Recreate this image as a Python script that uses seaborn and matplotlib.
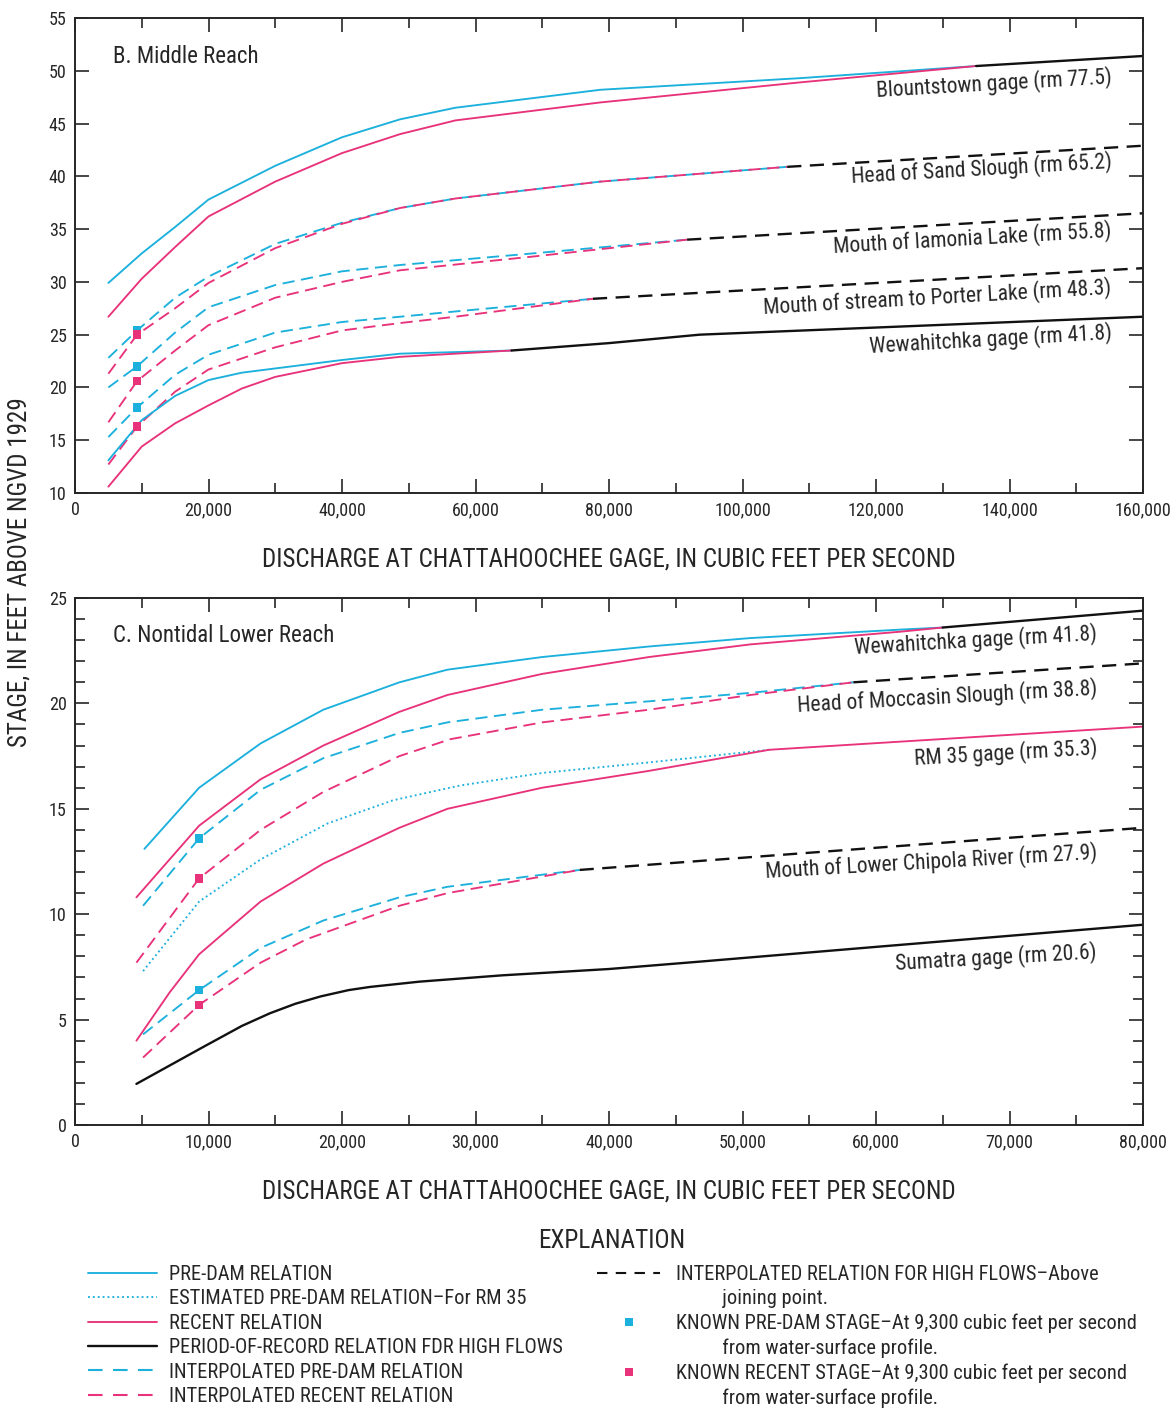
import matplotlib
matplotlib.use("Agg")
import matplotlib.pyplot as plt
from matplotlib.lines import Line2D
from matplotlib.ticker import MultipleLocator, FuncFormatter
import seaborn as sns

CYAN = '#1cb0dc'
PINK = '#e8327a'
BLACK = '#111111'

# ---------------- B. Middle Reach ----------------
mid_blount_x = [5000, 10000, 15000, 20000, 30000, 40000, 48700, 57000, 78700, 108600, 135000]
mid_blount_pre = [29.9, 32.7, 35.2, 37.8, 41.0, 43.7, 45.4, 46.5, 48.2, 49.3, 50.45]
mid_blount_rec = [26.7, 30.3, 33.3, 36.2, 39.5, 42.2, 44.0, 45.3, 47.0, 48.9, 50.45]
mid_blount_hi_x = [135000, 160000]
mid_blount_hi = [50.45, 51.4]

mid_sand_x = [5000, 9300, 15000, 20000, 30000, 40000, 48700, 57000, 78700, 106700]
mid_sand_pre = [22.8, 25.4, 28.5, 30.5, 33.6, 35.6, 37.0, 37.9, 39.5, 40.9]
mid_sand_rec = [21.3, 25.0, 27.5, 29.9, 33.2, 35.5, 37.0, 37.9, 39.5, 40.9]
mid_sand_hi_x = [106700, 160000]
mid_sand_hi = [40.9, 42.9]

mid_iam_x = [5000, 9300, 15000, 20000, 30000, 40000, 48700, 68600, 91700]
mid_iam_pre = [20.0, 22.0, 25.2, 27.6, 29.7, 31.0, 31.6, 32.7, 34.0]
mid_iam_rec = [16.7, 20.6, 23.5, 25.9, 28.5, 30.0, 31.1, 32.4, 34.0]
mid_iam_hi_x = [91700, 160000]
mid_iam_hi = [34.0, 36.5]

mid_port_x = [5000, 9300, 15000, 20000, 30000, 40000, 48700, 57000, 77600]
mid_port_pre = [15.3, 18.1, 21.2, 23.1, 25.2, 26.2, 26.7, 27.2, 28.4]
mid_port_rec = [12.7, 16.3, 19.6, 21.7, 23.8, 25.4, 26.1, 26.7, 28.4]
mid_port_hi_x = [77600, 160000]
mid_port_hi = [28.4, 31.3]

mid_wewa_x = [5000, 10000, 15000, 20000, 25000, 30000, 40000, 48700, 65400]
mid_wewa_pre = [13.1, 16.9, 19.2, 20.7, 21.4, 21.8, 22.6, 23.2, 23.5]
mid_wewa_rec = [10.6, 14.4, 16.6, 18.3, 19.9, 21.0, 22.3, 22.9, 23.5]
mid_wewa_hi_x = [65400, 80000, 93600, 160000]
mid_wewa_hi = [23.5, 24.2, 25.0, 26.7]

mid_known_pre = [25.4, 22.0, 18.1]
mid_known_rec = [25.0, 20.6, 16.3]

mid_labels = ['Blountstown gage (rm 77.5)', 'Head of Sand Slough (rm 65.2)',
              'Mouth of Iamonia Lake (rm 55.8)', 'Mouth of stream to Porter Lake (rm 48.3)',
              'Wewahitchka gage (rm 41.8)']
mid_label_y = [49.4, 41.4, 34.9, 29.5, 25.2]

# ---------------- C. Nontidal Lower Reach ----------------
low_wewa_pre_x = [5200, 9300, 13900, 18600, 24300, 27900, 35000, 43000, 50600, 61800, 65000]
low_wewa_pre = [13.1, 16.0, 18.1, 19.7, 21.0, 21.6, 22.2, 22.7, 23.1, 23.5, 23.6]
low_wewa_rec_x = [4600, 9300, 13900, 18600, 24300, 27900, 35000, 43000, 50600, 61800, 65000]
low_wewa_rec = [10.8, 14.2, 16.4, 18.0, 19.6, 20.4, 21.4, 22.2, 22.8, 23.4, 23.6]
low_wewa_hi_x = [65000, 80000]
low_wewa_hi = [23.6, 24.4]

low_moc_pre_x = [5100, 9300, 13900, 18600, 24300, 27900, 35000, 43000, 50600, 58300]
low_moc_pre = [10.4, 13.6, 15.9, 17.4, 18.6, 19.1, 19.7, 20.1, 20.5, 21.0]
low_moc_rec_x = [4600, 9300, 13900, 18600, 24300, 28100, 35000, 43000, 50600, 58300]
low_moc_rec = [7.7, 11.7, 14.0, 15.8, 17.5, 18.3, 19.1, 19.7, 20.4, 21.0]
low_moc_hi_x = [58300, 80000]
low_moc_hi = [21.0, 21.9]

low_rm35_est_x = [5100, 9300, 13900, 18900, 23800, 28800, 35000, 43000, 52000]
low_rm35_est = [7.3, 10.6, 12.6, 14.3, 15.4, 16.1, 16.7, 17.2, 17.8]
low_rm35_rec_x = [4600, 7100, 9300, 13900, 18600, 24300, 27900, 35000, 43000, 52000, 80000]
low_rm35_rec = [4.0, 6.3, 8.1, 10.6, 12.4, 14.1, 15.0, 16.0, 16.8, 17.8, 18.9]

low_chip_pre_x = [5100, 9300, 13900, 18600, 24300, 27900, 37800]
low_chip_pre = [4.3, 6.4, 8.4, 9.7, 10.8, 11.3, 12.1]
low_chip_rec_x = [5100, 9300, 13900, 17300, 24300, 27900, 37800]
low_chip_rec = [3.2, 5.7, 7.7, 8.8, 10.4, 11.0, 12.1]
low_chip_hi_x = [37800, 80000]
low_chip_hi = [12.1, 14.1]

low_sum_x = [4600, 9600, 12500, 14600, 16500, 18400, 20500, 22100, 25800, 32000, 40000, 46800, 60000, 80000]
low_sum = [1.95, 3.7, 4.7, 5.3, 5.75, 6.1, 6.4, 6.55, 6.8, 7.1, 7.4, 7.75, 8.45, 9.5]

low_known_pre = [13.6, 6.4]
low_known_rec = [11.7, 5.7]

low_labels = ['Wewahitchka gage (rm 41.8)', 'Head of Moccasin Slough (rm 38.8)',
              'RM 35 gage (rm 35.3)', 'Mouth of Lower Chipola River (rm 27.9)',
              'Sumatra gage (rm 20.6)']
low_label_y = [23.3, 20.7, 17.9, 12.95, 8.2]

KNOWN_Q = 9300

STYLES = {
    'solid': '-',
    'dash': (0, (6.5, 3.5)),
    'dot': (0, (1, 1.6)),
    'bdash': (0, (6, 3.6)),
}

sns.set_style("ticks")
plt.rcParams['font.family'] = ['Roboto Condensed', 'DejaVu Sans Condensed',
                               'Liberation Sans Narrow', 'Liberation Sans', 'DejaVu Sans']
plt.rcParams['axes.linewidth'] = 1.4


def curve(ax, x, y, color, style='solid', lw=1.35):
    sns.lineplot(x=x, y=y, ax=ax, color=color, linestyle=STYLES[style],
                 linewidth=lw, sort=False, estimator=None)


def known(ax, values, color):
    sns.scatterplot(x=[KNOWN_Q] * len(values), y=values, ax=ax, marker='s', s=38,
                    color=color, edgecolor='none', zorder=5)


def setup_axes(ax, xmax, xmajor, xminor, ymin, ymax, ymajor, yminor=None):
    ax.set_xlim(0, xmax)
    ax.set_ylim(ymin, ymax)
    ax.xaxis.set_major_locator(MultipleLocator(xmajor))
    ax.xaxis.set_minor_locator(MultipleLocator(xminor))
    ax.yaxis.set_major_locator(MultipleLocator(ymajor))
    if yminor:
        ax.yaxis.set_minor_locator(MultipleLocator(yminor))
    ax.xaxis.set_major_formatter(FuncFormatter(lambda v, p: f'{int(v):,}'))
    ax.tick_params(which='both', direction='in', top=True, right=True, labelsize=13, width=1.2)
    ax.tick_params(which='major', length=10, pad=6)
    ax.tick_params(which='minor', length=7)
    for s in ax.spines.values():
        s.set_linewidth(1.4)
    ax.set_ylabel('')
    ax.set_xlabel('DISCHARGE AT CHATTAHOOCHEE GAGE, IN CUBIC FEET PER SECOND',
                  fontsize=18, labelpad=20)


fig = plt.figure(figsize=(11.75, 14.08), dpi=100)
ax1 = fig.add_axes([75 / 1175, 1 - 493 / 1408, 1068 / 1175, 475 / 1408])
ax2 = fig.add_axes([75 / 1175, 1 - 1125 / 1408, 1068 / 1175, 527 / 1408])

# ---- middle reach ----
curve(ax1, mid_blount_x, mid_blount_pre, CYAN)
curve(ax1, mid_blount_x, mid_blount_rec, PINK)
curve(ax1, mid_blount_hi_x, mid_blount_hi, BLACK, lw=1.7)
curve(ax1, mid_sand_x, mid_sand_pre, CYAN, 'dash')
curve(ax1, mid_sand_x, mid_sand_rec, PINK, 'dash')
curve(ax1, mid_sand_hi_x, mid_sand_hi, BLACK, 'bdash', lw=1.7)
curve(ax1, mid_iam_x, mid_iam_pre, CYAN, 'dash')
curve(ax1, mid_iam_x, mid_iam_rec, PINK, 'dash')
curve(ax1, mid_iam_hi_x, mid_iam_hi, BLACK, 'bdash', lw=1.7)
curve(ax1, mid_port_x, mid_port_pre, CYAN, 'dash')
curve(ax1, mid_port_x, mid_port_rec, PINK, 'dash')
curve(ax1, mid_port_hi_x, mid_port_hi, BLACK, 'bdash', lw=1.7)
curve(ax1, mid_wewa_x, mid_wewa_pre, CYAN)
curve(ax1, mid_wewa_x, mid_wewa_rec, PINK)
curve(ax1, mid_wewa_hi_x, mid_wewa_hi, BLACK, lw=1.7)
known(ax1, mid_known_pre, CYAN)
known(ax1, mid_known_rec, PINK)
setup_axes(ax1, 160000, 20000, 10000, 10, 55, 5)
for lab, yy in zip(mid_labels, mid_label_y):
    ax1.text(155300, yy, lab, ha='right', va='center', rotation=3.3,
             rotation_mode='anchor', fontsize=15.5)
ax1.text(0.0356, 0.918, 'B. Middle Reach', transform=ax1.transAxes, fontsize=16.5,
         va='center', ha='left')

# ---- lower reach ----
curve(ax2, low_wewa_pre_x, low_wewa_pre, CYAN)
curve(ax2, low_wewa_rec_x, low_wewa_rec, PINK)
curve(ax2, low_wewa_hi_x, low_wewa_hi, BLACK, lw=1.7)
curve(ax2, low_moc_pre_x, low_moc_pre, CYAN, 'dash')
curve(ax2, low_moc_rec_x, low_moc_rec, PINK, 'dash')
curve(ax2, low_moc_hi_x, low_moc_hi, BLACK, 'bdash', lw=1.7)
curve(ax2, low_rm35_est_x, low_rm35_est, CYAN, 'dot')
curve(ax2, low_rm35_rec_x, low_rm35_rec, PINK)
curve(ax2, low_chip_pre_x, low_chip_pre, CYAN, 'dash')
curve(ax2, low_chip_rec_x, low_chip_rec, PINK, 'dash')
curve(ax2, low_chip_hi_x, low_chip_hi, BLACK, 'bdash', lw=1.7)
curve(ax2, low_sum_x, low_sum, BLACK, lw=1.7)
known(ax2, low_known_pre, CYAN)
known(ax2, low_known_rec, PINK)
setup_axes(ax2, 80000, 10000, 5000, 0, 25, 5, 1)
for lab, yy in zip(low_labels, low_label_y):
    ax2.text(76550, yy, lab, ha='right', va='center', rotation=3.3,
             rotation_mode='anchor', fontsize=15.5)
ax2.text(0.0356, 0.928, 'C. Nontidal Lower Reach', transform=ax2.transAxes, fontsize=16.5,
         va='center', ha='left')

fig.text(20 / 1175, 1 - 572 / 1408, 'STAGE, IN FEET ABOVE NGVD 1929', rotation=90,
         ha='center', va='center', fontsize=18)

# ---- explanation ----
fig.text(612 / 1175, 1 - 1241 / 1408, 'EXPLANATION', ha='center', va='center', fontsize=18.2)

left_handles = [
    Line2D([], [], color=CYAN, lw=1.35),
    Line2D([], [], color=CYAN, lw=1.35, linestyle=STYLES['dot']),
    Line2D([], [], color=PINK, lw=1.35),
    Line2D([], [], color=BLACK, lw=1.7),
    Line2D([], [], color=CYAN, lw=1.5, linestyle=(0, (7, 5))),
    Line2D([], [], color=PINK, lw=1.5, linestyle=(0, (7, 5))),
]
left_labels = ['PRE-DAM RELATION', 'ESTIMATED PRE-DAM RELATION\u2013For RM 35', 'RECENT RELATION',
               'PERIOD-OF-RECORD RELATION FDR HIGH FLOWS', 'INTERPOLATED PRE-DAM RELATION',
               'INTERPOLATED RECENT RELATION']
empty = Line2D([], [], linestyle='none')
right_handles = [
    Line2D([], [], color=BLACK, lw=1.5, linestyle=(0, (5, 4))),
    empty,
    Line2D([], [], color=CYAN, marker='s', markersize=6, linestyle='none', markeredgewidth=0),
    empty,
    Line2D([], [], color=PINK, marker='s', markersize=6, linestyle='none', markeredgewidth=0),
    empty,
]
indent = ' ' * 10
right_labels = ['INTERPOLATED RELATION FOR HIGH FLOWS\u2013Above', indent + 'joining point.',
                'KNOWN PRE-DAM STAGE\u2013At 9,300 cubic feet per second',
                indent + 'from water-surface profile.',
                'KNOWN RECENT STAGE\u2013At 9,300 cubic feet per second',
                indent + 'from water-surface profile.']

common = dict(loc='upper left', bbox_transform=fig.transFigure, frameon=False,
              borderpad=0, borderaxespad=0, fontsize=14.7, labelspacing=0.265)
leg1 = fig.legend(left_handles, left_labels, bbox_to_anchor=(88 / 1175, 1 - 1265 / 1408),
                  handlelength=3.4, handletextpad=0.59, **common)
leg2 = fig.legend(right_handles, right_labels, bbox_to_anchor=(597 / 1175, 1 - 1265 / 1408),
                  handlelength=3.1, handletextpad=0.78, **common)

fig.savefig('out.png', dpi=100)
